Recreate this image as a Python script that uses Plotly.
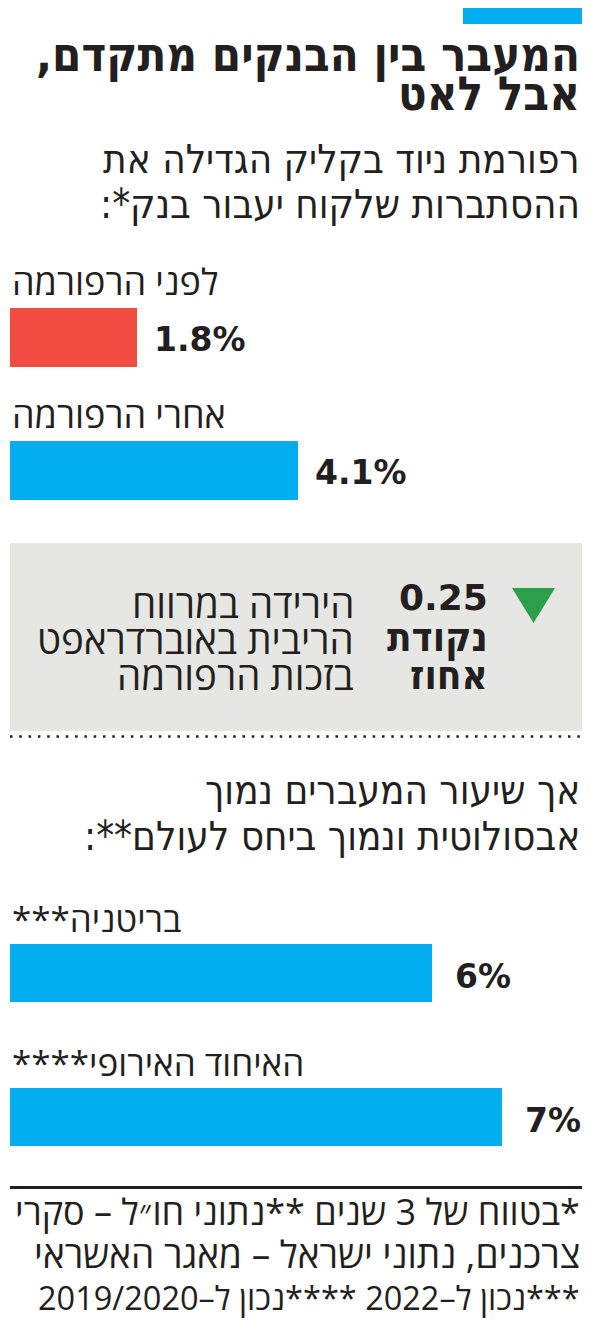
import plotly.graph_objects as go

# the page body adds an 8px margin, so the figure is drawn 8px smaller
OFF = 8
W, H = 593 - OFF, 1330 - OFF

# data
reform_labels = ["לפני הרפורמה", "אחרי הרפורמה"]
reform_values = [1.8, 4.1]
reform_colors = ["#f24d42", "#00aeef"]

world_labels = ["בריטניה***", "האיחוד האירופי****"]
world_values = [6, 7]
world_colors = ["#00aeef", "#00aeef"]

title_lines = ["המעבר בין הבנקים מתקדם,", "אבל לאט"]
sub1_lines = ["רפורמת ניוד בקליק הגדילה את", "ההסתברות שלקוח יעבור בנק*:"]
sub2_lines = ["אך שיעור המעברים נמוך", "אבסולוטית ונמוך ביחס לעולם**:"]
box_number = "0.25"
box_unit = ["נקודת", "אחוז"]
box_text = ["הירידה במרווח", "הריבית באוברדראפט", "בזכות הרפורמה"]
footnote = [
    "*בטווח של 3 שנים **נתוני חו״ל – סקרי",
    "צרכנים, נתוני ישראל – מאגר האשראי",
    "***נכון ל–2022 ****נכון ל–2019/2020",
]

INK = "#231f20"
COND = "DejaVu Sans Condensed"
REG = "Open Sans"
RLM = "\u200f"
PX_PER_PCT = 70.3


def px(x):
    return (x - OFF) / W


def py(y):
    return 1 - (y - OFF) / H


def rtl(s):
    return RLM + s + RLM


fig = go.Figure()

fig.add_trace(go.Bar(
    x=reform_values, y=reform_labels, orientation="h",
    marker=dict(color=reform_colors, line=dict(width=0)),
    width=0.444, xaxis="x", yaxis="y", hoverinfo="skip",
))
fig.add_trace(go.Bar(
    x=world_values, y=world_labels, orientation="h",
    marker=dict(color=world_colors, line=dict(width=0)),
    width=0.403, xaxis="x", yaxis="y2", hoverinfo="skip",
))

ann = []


def txt(s, x, y, size, bold=False, anchor="right", family=COND, color=INK):
    ann.append(dict(
        text=f"<b>{rtl(s)}</b>" if bold else rtl(s),
        x=px(x), y=py(y), xref="paper", yref="paper",
        xanchor=anchor, yanchor="middle", showarrow=False,
        font=dict(family=family, size=size, color=color),
    ))


txt(title_lines[0], 582, 54, 47, bold=True)
txt(title_lines[1], 582, 94, 47, bold=True)
txt(sub1_lines[0], 582, 159, 40)
txt(sub1_lines[1], 582, 204, 40)
txt(sub2_lines[0], 582, 790, 40)
txt(sub2_lines[1], 582, 836, 40)

# bar labels and values
for lab, v in zip(reform_labels, reform_values):
    ann.append(dict(text=rtl(lab), x=0, y=lab, xref="x", yref="y", xanchor="left",
                    yanchor="middle", yshift=56, showarrow=False,
                    font=dict(family=REG, size=36, color=INK)))
    ann.append(dict(text=f"<b>{v}%</b>", x=v, y=lab, xref="x", yref="y", xanchor="left",
                    yanchor="middle", xshift=15, yshift=-2, showarrow=False,
                    font=dict(family="DejaVu Sans", size=33, color=INK)))
for lab, v in zip(world_labels, world_values):
    ann.append(dict(text=rtl(lab), x=0, y=lab, xref="x", yref="y2", xanchor="left",
                    yanchor="middle", yshift=55, showarrow=False,
                    font=dict(family=REG, size=35, color=INK)))
    ann.append(dict(text=f"<b>{v}%</b>", x=v, y=lab, xref="x", yref="y2", xanchor="left",
                    yanchor="middle", xshift=21, yshift=-3, showarrow=False,
                    font=dict(family="DejaVu Sans", size=33, color=INK)))

# grey box contents
txt(box_number, 490, 597, 36, bold=True, family="DejaVu Sans")
txt(box_unit[0], 490, 637, 40, bold=True)
txt(box_unit[1], 490, 675, 40, bold=True)
for i, s in enumerate(box_text):
    txt(s, 356, 603 + i * 36, 38.5, family=REG)

txt(footnote[0], 582, 1211, 36, family=REG)
txt(footnote[1], 582, 1253, 37, family=REG)
txt(footnote[2], 582, 1297, 32.5, family=REG)

shapes = [
    dict(type="rect", xref="paper", yref="paper", x0=px(463), x1=px(582), y0=py(7), y1=py(24),
         fillcolor="#00aeef", line=dict(width=0)),
    dict(type="rect", xref="paper", yref="paper", x0=px(10), x1=px(582), y0=py(543), y1=py(731),
         fillcolor="#e6e6e3", line=dict(width=0), layer="below"),
    dict(type="path", xref="paper", yref="paper",
         path=f"M {px(512)} {py(588)} L {px(555)} {py(588)} L {px(533.5)} {py(623)} Z",
         fillcolor="#2b9f4a", line=dict(width=0)),
    dict(type="line", xref="paper", yref="paper", x0=px(10), x1=px(582), y0=py(736.5), y1=py(736.5),
         line=dict(color=INK, width=2.5, dash="2.5px,6.8px")),
    dict(type="line", xref="paper", yref="paper", x0=px(10), x1=px(582), y0=py(1187.5), y1=py(1187.5),
         line=dict(color=INK, width=3)),
]

fig.update_layout(
    width=W, height=H,
    margin=dict(l=0, r=0, t=0, b=0),
    paper_bgcolor="white", plot_bgcolor="rgba(0,0,0,0)",
    showlegend=False, bargap=0,
    xaxis=dict(domain=[px(10), 1], range=[0, (593 - 10) / PX_PER_PCT], visible=False,
               fixedrange=True),
    yaxis=dict(domain=[py(537), py(271)], range=[len(reform_labels) - 0.5, -0.5],
               visible=False, anchor="x", fixedrange=True),
    yaxis2=dict(domain=[py(1189), py(901)], range=[len(world_labels) - 0.5, -0.5],
                visible=False, anchor="x", fixedrange=True),
    annotations=ann,
    shapes=shapes,
)

fig.write_html("out.html")
